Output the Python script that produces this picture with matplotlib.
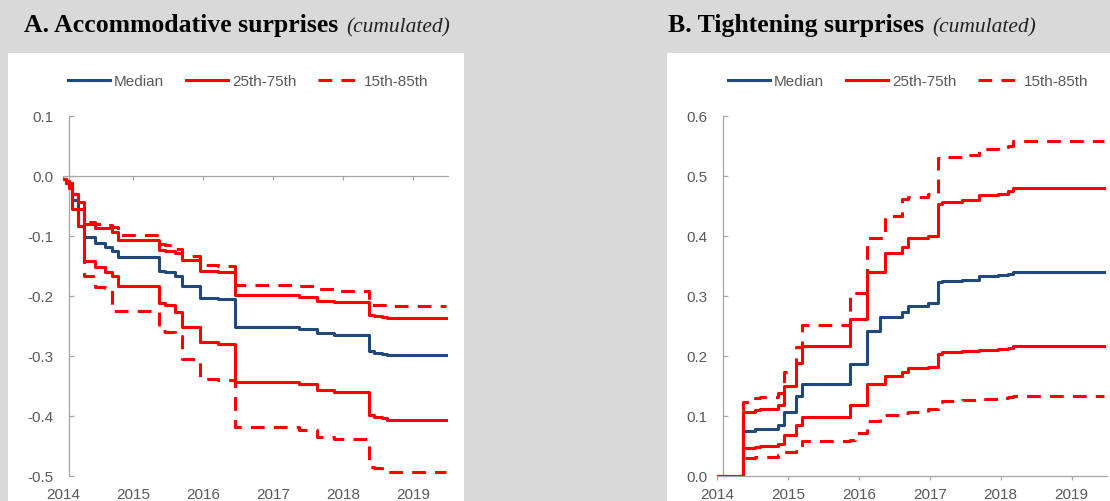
import matplotlib
matplotlib.use('Agg')
import matplotlib.pyplot as plt
from matplotlib.patches import Rectangle
from matplotlib.lines import Line2D

# ---------------- data ----------------
years = [2014, 2015, 2016, 2017, 2018, 2019]

# Panel A: accommodative surprises (cumulated), step dates (decimal years)
a_dates = [2014.00, 2014.04, 2014.09, 2014.13, 2014.21, 2014.30, 2014.45, 2014.60,
           2014.70, 2014.79, 2015.37, 2015.46, 2015.60, 2015.70, 2015.96, 2016.21,
           2016.46, 2017.37, 2017.63, 2017.87, 2018.37, 2018.44, 2018.56, 2018.63,
           2019.47]
a_median = [-0.005, -0.010, -0.013, -0.040, -0.055, -0.102, -0.112, -0.118,
            -0.125, -0.135, -0.158, -0.160, -0.167, -0.183, -0.203, -0.205,
            -0.252, -0.255, -0.262, -0.265, -0.292, -0.295, -0.296, -0.298,
            -0.298]
a_p75 = [-0.005, -0.008, -0.012, -0.030, -0.043, -0.080, -0.087, -0.087,
         -0.093, -0.107, -0.123, -0.125, -0.128, -0.140, -0.158, -0.160,
         -0.198, -0.202, -0.208, -0.210, -0.232, -0.233, -0.235, -0.237,
         -0.237]
a_p25 = [-0.005, -0.012, -0.020, -0.055, -0.083, -0.142, -0.152, -0.160,
         -0.167, -0.183, -0.212, -0.215, -0.227, -0.252, -0.277, -0.280,
         -0.343, -0.347, -0.357, -0.360, -0.398, -0.401, -0.404, -0.407,
         -0.407]
a_p85 = [-0.005, -0.008, -0.012, -0.030, -0.055, -0.077, -0.080, -0.082,
         -0.085, -0.098, -0.113, -0.115, -0.122, -0.133, -0.148, -0.150,
         -0.182, -0.184, -0.188, -0.192, -0.215, -0.215, -0.215, -0.216,
         -0.216]
a_p15 = [-0.005, -0.012, -0.030, -0.058, -0.085, -0.167, -0.185, -0.187,
         -0.225, -0.225, -0.258, -0.260, -0.267, -0.305, -0.338, -0.340,
         -0.418, -0.423, -0.435, -0.438, -0.485, -0.487, -0.493, -0.493,
         -0.493]

# Panel B: tightening surprises (cumulated)
b_dates = [2014.00, 2014.37, 2014.54, 2014.60, 2014.86, 2014.94, 2015.11, 2015.20,
           2015.87, 2015.94, 2016.11, 2016.30, 2016.37, 2016.61, 2016.69, 2016.97,
           2017.11, 2017.18, 2017.45, 2017.70, 2017.96, 2018.10, 2018.17, 2019.46]
b_median = [0.0, 0.075, 0.078, 0.078, 0.085, 0.107, 0.133, 0.153,
            0.187, 0.187, 0.242, 0.265, 0.265, 0.273, 0.283, 0.288,
            0.323, 0.325, 0.327, 0.333, 0.335, 0.337, 0.340, 0.340]
b_p75 = [0.0, 0.107, 0.110, 0.112, 0.118, 0.150, 0.188, 0.217,
         0.262, 0.262, 0.340, 0.340, 0.372, 0.382, 0.397, 0.400,
         0.453, 0.457, 0.460, 0.468, 0.470, 0.475, 0.480, 0.480]
b_p25 = [0.0, 0.047, 0.048, 0.050, 0.053, 0.068, 0.085, 0.098,
         0.118, 0.118, 0.153, 0.153, 0.167, 0.173, 0.180, 0.182,
         0.203, 0.207, 0.208, 0.210, 0.212, 0.213, 0.216, 0.216]
b_p85 = [0.0, 0.123, 0.130, 0.132, 0.138, 0.173, 0.215, 0.252,
         0.305, 0.305, 0.397, 0.397, 0.433, 0.462, 0.465, 0.470,
         0.530, 0.532, 0.535, 0.545, 0.548, 0.550, 0.558, 0.558]
b_p15 = [0.0, 0.030, 0.031, 0.032, 0.035, 0.040, 0.042, 0.058,
         0.060, 0.072, 0.092, 0.100, 0.102, 0.105, 0.107, 0.112,
         0.123, 0.125, 0.126, 0.128, 0.130, 0.132, 0.133, 0.133]

legend_labels = ['Median', '25th-75th', '15th-85th']
a_yticks = [0.1, 0.0, -0.1, -0.2, -0.3, -0.4, -0.5]
b_yticks = [0.6, 0.5, 0.4, 0.3, 0.2, 0.1, 0.0]

# ---------------- styling ----------------
BLUE = '#1F497D'
RED = '#FF0000'
AXC = '#A6A6A6'
TXT = '#595959'
LW = 2.2
DASH = (0, (4.5, 3))

plt.rcParams['font.family'] = ['Liberation Sans', 'DejaVu Sans']

W, H = 1110, 502
fig = plt.figure(figsize=(W / 100, H / 100), dpi=100, facecolor='#D9D9D9')


def fx(px):
    return px / W


def fy(py):
    return 1 - py / H


# white panels
for x0, x1 in [(8, 464), (667, 1110)]:
    fig.add_artist(Rectangle((fx(x0), 0), fx(x1) - fx(x0), fy(54),
                             transform=fig.transFigure, facecolor='white',
                             edgecolor='none', zorder=-5))


def style_axes(ax, ylim, yticks, zero_inside):
    ax.set_facecolor('none')
    ax.set_xlim(2014, 2019.5)
    ax.set_ylim(*ylim)
    ax.set_yticks(yticks)
    ax.set_yticklabels([f'{v:.1f}' for v in yticks])
    for s in ['top', 'right']:
        ax.spines[s].set_visible(False)
    ax.spines['left'].set_position(('data', 2014.085))
    ax.spines['left'].set_color(AXC)
    ax.spines['left'].set_linewidth(0.9)
    ax.tick_params(axis='y', direction='in', length=3.5, width=0.9,
                   color=AXC, labelcolor=TXT, labelsize=11, pad=11)
    ax.set_xticks(years)
    if zero_inside:
        ax.spines['bottom'].set_position(('data', 0))
        ax.spines['bottom'].set_color(AXC)
        ax.spines['bottom'].set_linewidth(0.9)
        ax.tick_params(axis='x', direction='out', length=3, width=0.9,
                       color=AXC, labelbottom=False)
        sec = ax.secondary_xaxis('bottom')
        sec.spines['bottom'].set_visible(False)
        sec.set_xticks(years)
        sec.set_xticklabels([str(y) for y in years])
        sec.tick_params(axis='x', length=0, labelcolor=TXT, labelsize=11, pad=8)
    else:
        ax.spines['bottom'].set_color(AXC)
        ax.spines['bottom'].set_linewidth(0.9)
        ax.set_xticklabels([str(y) for y in years])
        ax.tick_params(axis='x', direction='out', length=3, width=0.9,
                       color=AXC, labelcolor=TXT, labelsize=11, pad=5)


def draw_lines(ax, d, med, p75, p25, p85, p15):
    ax.step(d, med, where='post', color=BLUE, lw=LW, zorder=3)
    ax.step(d, p75, where='post', color=RED, lw=LW, zorder=4)
    ax.step(d, p25, where='post', color=RED, lw=LW, zorder=4)
    ax.step(d, p85, where='post', color=RED, lw=LW, ls=DASH, zorder=5)
    ax.step(d, p15, where='post', color=RED, lw=LW, ls=DASH, zorder=5)


axA = fig.add_axes([fx(63), fy(477), fx(448) - fx(63), fy(117) - fy(477)])
style_axes(axA, (-0.5, 0.1), a_yticks, True)
draw_lines(axA, a_dates, a_median, a_p75, a_p25, a_p85, a_p15)

axB = fig.add_axes([fx(717), fy(477), fx(1107) - fx(717), fy(117) - fy(477)])
style_axes(axB, (0.0, 0.6), b_yticks, False)
draw_lines(axB, b_dates, b_median, b_p75, b_p25, b_p85, b_p15)

handles = [Line2D([], [], color=BLUE, lw=LW),
           Line2D([], [], color=RED, lw=LW),
           Line2D([], [], color=RED, lw=LW, ls=DASH)]
for lx in [68, 728]:
    leg = fig.legend(handles, legend_labels, loc='center left',
                     bbox_to_anchor=(fx(lx), fy(82)), ncol=3, frameon=False,
                     handlelength=2.75, handletextpad=0.25, columnspacing=1.45,
                     borderpad=0, borderaxespad=0, fontsize=11)
    for t in leg.get_texts():
        t.set_color(TXT)

# titles: bold part + italic part
renderer = fig.canvas.get_renderer()
for x0, bold, ital in [(24, 'A. Accommodative surprises', '(cumulated)'),
                       (668, 'B. Tightening surprises', '(cumulated)')]:
    t1 = fig.text(fx(x0), fy(32), bold, fontfamily='Liberation Serif',
                  fontweight='bold', fontsize=18.5, color='black', va='baseline')
    bb = t1.get_window_extent(renderer)
    fig.text(fx(bb.x1 + 8), fy(32), ital, fontfamily='Liberation Serif',
             fontstyle='italic', fontsize=15.5, color='#222222', va='baseline')

fig.savefig('out.png', dpi=100, facecolor=fig.get_facecolor())
